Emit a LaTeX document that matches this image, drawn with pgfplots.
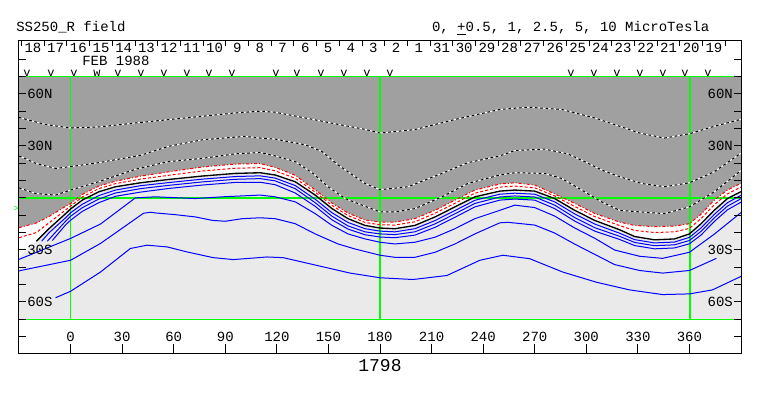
\documentclass[border=0pt]{standalone}
\usepackage{fontspec}
\setmainfont{Liberation Mono}
\usepackage{pgfplots}
\usepackage{pgfplotstable}
\pgfplotsset{compat=1.18}
\definecolor{dg}{RGB}{160,160,160}
\definecolor{lg}{RGB}{234,234,234}
\definecolor{gr}{RGB}{0,255,0}
\definecolor{bl}{RGB}{0,0,255}
\definecolor{rd}{RGB}{255,0,0}
\newcommand\fs{\fontsize{10.5}{12}\selectfont}

% neutral line (first row only used for the fill)
\pgfplotstableread{
x y
-30 -34.5
-19.9 -25.0
-12.6 -17.8
-2.9 -9.1
0 -6.4
6.8 -1.3
16.4 3.5
26.1 6.4
40.6 8.7
56.9 10.6
76.7 12.6
95.8 14.1
110.3 14.5
119 13.2
130.7 9.3
142.3 1.6
152.1 -6.2
161.4 -12.0
171.3 -15.9
180 -17.4
188.7 -17.8
200.3 -15.9
212 -11.0
223.6 -5.2
235.2 0.6
249.7 3.9
258.4 4.5
270 3.9
281.6 -0.4
293.3 -7.2
304.9 -13.0
319.4 -18.4
328.1 -22.3
339.7 -24.2
351.3 -23.7
360 -20.8
366.8 -14.9
374.4 -7.2
382.1 -0.4
390 3.6
}\Kt

\pgfplotstableread{
x y
-30 -17.3
-29 -16.9
-19.9 -14.5
-12.6 -10.8
-2.9 -4.9
0 -3.3
6.8 2.0
16.4 6.8
26.1 9.6
40.6 12.5
56.9 15.0
76.7 17.8
95.8 19.5
110.3 19.8
119 17.6
130.7 13.0
142.3 4.6
152.1 -3.0
161.4 -8.8
171.3 -12.8
180 -14.0
188.7 -14.0
200.3 -12.0
212 -7.2
223.6 -1.3
235.2 4.5
249.7 8.0
258.4 8.7
270 7.4
281.6 2.3
293.3 -3.2
304.9 -9.0
319.4 -14.0
328.1 -15.9
339.7 -16.6
351.3 -16.3
360 -14.9
366.8 -9.4
374.4 -1.3
382.1 4.5
390 8.4
}\Rone

\pgfplotstableread{
x y
-30 -23.0
-29 -22.7
-19.9 -20.0
-12.6 -14.5
-2.9 -7.0
0 -4.8
6.8 0.5
16.4 5.3
26.1 8.2
40.6 10.8
56.9 13.0
76.7 15.5
95.8 17.1
110.3 17.4
119 15.6
130.7 11.3
142.3 3.3
152.1 -4.4
161.4 -10.2
171.3 -14.2
180 -15.5
188.7 -15.7
200.3 -13.8
212 -8.9
223.6 -3.1
235.2 2.7
249.7 6.2
258.4 6.8
270 5.8
281.6 1.1
293.3 -5.0
304.9 -10.8
319.4 -16.0
328.1 -18.8
339.7 -20.0
351.3 -19.6
360 -17.6
366.8 -11.9
374.4 -4.0
382.1 2.3
390 6.2
}\Rtwo

\pgfplotstableread{
x y
-30 46.5
-29 46.1
-14.5 42.3
0 40.3
17.4 41.0
37.7 43.2
66.8 46.1
95.8 49.0
110.3 50.0
119 49.4
136.5 46.1
155.6 42.4
171.3 39.5
180 37.4
200.3 39.4
223.6 45.2
249.7 51.0
266 52.3
285.7 51.0
304.9 46.1
319.4 41.3
331 37.4
345.5 34.5
360 37.0
374.5 41.3
390 45.3
}\Done

\pgfplotstableread{
x y
-30 24.1
-29 23.8
-20.3 19.9
-8.7 17.0
0 18.0
16.3 20.3
40.6 24.5
56.9 29.7
76.7 33.5
94.1 34.9
101.6 35.5
110.3 34.5
119 33.9
136.5 30.6
146.3 26.7
155.6 19.0
165.5 12.2
171.3 8.3
180 4.7
196.3 6.4
216 14.1
231.1 20.3
249.7 24.2
258.4 27.3
275.8 28.1
289.2 25.4
299.1 20.9
308.9 16.1
319.4 12.2
332.2 8.3
345.5 6.4
360 8.7
374.5 15.1
390 25.8
}\Dtwo

\pgfplotstableread{
x y
-30 5.8
-29 5.4
-20.3 2.5
-8.7 1.6
0 4.5
16.3 9.3
37.7 16.5
56.9 20.9
76.7 22.8
95.8 25.4
110.3 26.2
119 24.2
130.7 20.9
141.1 14.1
149.8 6.4
159.7 -0.4
169.6 -4.2
180 -8.1
188.7 -8.1
200.3 -6.2
216 0.6
231.1 8.3
249.7 13.2
258.4 14.5
275.8 14.1
285.7 11.2
297.3 4.5
308.9 -2.3
319.4 -7.2
331 -8.1
345.5 -9.1
360 -5.2
374.5 3.5
390 15.8
}\Dthree

\begin{document}
\begin{tikzpicture}
\useasboundingbox (-14.25pt,-32.25pt) rectangle (558pt,264.75pt);
\begin{axis}[
  scale only axis, width=541.5pt, height=234pt,
  xmin=-30, xmax=390, ymin=-89.5, ymax=90.5,
  clip=false, axis on top,
  axis line style={line width=0.75pt, black},
  tick align=inside,
  xtick={0,30,...,360}, xtick pos=left,
  ytick={-80,-70,...,80}, ytick pos=both, yticklabel pos=left,
  yticklabels={,,60S,,,30S,,,,,,30N,,,60N,,},
  xticklabel style={anchor=center, yshift=11.8pt},
  yticklabel style={anchor=west, xshift=6pt},
  tick label style={font=\fs, inner sep=0pt},
  /pgf/number format/assume math mode=true,
  xtick style={/pgfplots/major tick length=7pt, line width=0.75pt, black},
  ytick style={/pgfplots/major tick length=5.5pt, line width=0.75pt, black},
]
% background regions
\addplot[fill=white, draw=none] table {\Rone} -- (axis cs:390,-70) -- (axis cs:-30,-70) -- cycle;
\addplot[fill=lg, draw=none] table {\Kt} -- (axis cs:390,-70) -- (axis cs:-30,-70) -- cycle;
\addplot[fill=dg, draw=none] table {\Rone} -- (axis cs:390,70) -- (axis cs:-30,70) -- cycle;

% green reference lines
\addplot[gr, line width=1pt] coordinates {(-30,0) (390,0)};
\addplot[gr, line width=1pt] coordinates {(-30,70) (390,70)};
\addplot[gr, line width=1pt] coordinates {(-30,-70) (390,-70)};
\addplot[gr, line width=1pt] coordinates {(0,-70) (0,70)};
\addplot[gr, line width=1pt] coordinates {(180,-70) (180,70)};
\addplot[gr, line width=1pt] coordinates {(360.3,-70) (360.3,70)};

% negative contours (dotted black/white)
\addplot[white, line width=0.75pt] table {\Done};
\addplot[black, line width=0.75pt, dash pattern=on 2pt off 2pt] table {\Done};
\addplot[white, line width=0.75pt] table {\Dtwo};
\addplot[black, line width=0.75pt, dash pattern=on 2pt off 2pt] table {\Dtwo};
\addplot[white, line width=0.75pt] table {\Dthree};
\addplot[black, line width=0.75pt, dash pattern=on 2pt off 2pt] table {\Dthree};

% red contours
\addplot[rd, line width=0.75pt, dash pattern=on 2.25pt off 1.5pt on 0.75pt off 1.5pt] table {\Rone};
\addplot[rd, line width=0.75pt, dash pattern=on 2.25pt off 1.5pt] table {\Rtwo};

% positive contours (blue)
\addplot[bl, line width=0.75pt] coordinates {
(-16.8,-25.0) (-12.6,-20.2) (-2.9,-11.5) (0,-8.6) (6.8,-3.7) (16.4,1.3) (26.1,4.5) (40.6,7.0) (56.9,8.8) (76.7,10.8) (95.8,12.3) (110.3,12.7) (119,11.4) (130.7,7.1) (142.3,-0.8) (152.1,-8.6) (161.4,-14.2) (171.3,-17.8) (180,-19.2) (188.7,-19.6) (200.3,-17.8) (212,-13.1) (223.6,-7.3) (235.2,-1.4) (249.7,2.1) (258.4,2.7) (270,2.1) (281.6,-2.3) (293.3,-9.3) (304.9,-15.1) (319.4,-20.4) (328.1,-24.1) (339.7,-26.0) (351.3,-25.5) (360,-22.8) (366.8,-17.3) (374.4,-9.6) (382.1,-2.8) (390,1.5)};
\addplot[bl, line width=0.75pt] coordinates {
(-13.5,-25.0) (-2.9,-13.5) (0,-10.6) (6.8,-5.7) (16.4,-0.7) (26.1,2.8) (40.6,5.3) (56.9,7.2) (76.7,9.2) (95.8,10.7) (110.3,11.1) (119,9.8) (130.7,5.3) (142.3,-2.8) (152.1,-10.6) (161.4,-16.2) (171.3,-19.6) (180,-20.8) (188.7,-21.2) (200.3,-19.6) (212,-15.0) (223.6,-9.2) (235.2,-3.2) (249.7,0.5) (258.4,1.1) (270,0.5) (281.6,-4.2) (293.3,-11.4) (304.9,-17.2) (319.4,-22.2) (328.1,-25.7) (339.7,-27.6) (351.3,-27.1) (360,-24.6) (366.8,-19.3) (374.4,-11.6) (382.1,-4.8) (390,-0.5)};
\addplot[bl, line width=0.75pt] coordinates {
(-10.6,-24.6) (-2.9,-15.6) (0,-12.9) (6.8,-7.8) (16.4,-2.8) (26.1,0.9) (40.6,3.3) (56.9,5.4) (76.7,7.4) (95.8,8.9) (110.3,9.0) (119,7.6) (130.7,2.8) (142.3,-4.9) (152.1,-12.7) (161.4,-18.0) (171.3,-21.3) (180,-22.6) (188.7,-23.0) (200.3,-21.5) (212,-17.0) (223.6,-11.2) (235.2,-5.2) (249.7,-1.3) (258.4,-0.7) (270,-1.3) (281.6,-6.2) (293.3,-13.4) (304.9,-19.2) (319.4,-24.0) (328.1,-27.5) (339.7,-29.4) (351.3,-28.9) (360,-26.5) (366.8,-21.4) (374.4,-13.7) (382.1,-6.9) (390,-2.5)};
\addplot[bl, line width=0.75pt] coordinates {
(-30,-35.5) (-29,-35.1) (0,-23.4) (17.4,-15.1) (37.7,0) (49.4,0.6) (72.6,-0.4) (88.3,0.6) (110.3,1.6) (119,0.6) (130.7,-2.3) (142.3,-9.1) (152.1,-15.9) (161.4,-20.8) (171.3,-23.7) (180,-25.6) (188.7,-26.6) (200.3,-25.6) (212,-22.7) (223.6,-17.8) (235.2,-12.0) (249.7,-7.2) (258.4,-4.2) (270,-5.6) (281.6,-10.5) (293.3,-17.4) (304.9,-23.3) (316.5,-30.1) (331,-33.7) (344.4,-34.9) (360,-31.4) (374.5,-20.9) (390,-8.5)};
\addplot[bl, line width=0.75pt] coordinates {
(-30,-42.2) (-29,-41.9) (0,-36.0) (17.4,-26.3) (42.4,-8.9) (46.5,-8.3) (49.4,-8.7) (61,-9.7) (72.6,-11.0) (82.5,-13.0) (90,-13.5) (99.9,-12.0) (110.3,-11.5) (119,-12.0) (130.7,-14.9) (142.3,-20.8) (155.6,-26.6) (165.5,-29.5) (180,-33.1) (188.7,-34.3) (200.3,-34.3) (212,-31.4) (223.6,-26.6) (235.2,-20.8) (249.7,-14.4) (254.4,-14.1) (270,-15.7) (281.6,-20.3) (293.3,-26.7) (304.9,-32.6) (316.5,-38.5) (331,-41.9) (344.4,-43.4) (360,-41.9) (375.7,-34.9)};
\addplot[bl, line width=0.75pt] coordinates {
(-8.7,-57.6) (0,-53.9) (17.4,-42.8) (34.8,-29.2) (44.5,-27.3) (56.2,-28.3) (67.8,-31.2) (83.0,-34.5) (94.7,-35.6) (114.4,-34.1) (123.7,-34.5) (143.4,-39.0) (162.6,-43.4) (180,-46.1) (199.2,-47.1) (218.9,-44.8) (238.1,-36.0) (251.5,-33.1) (267.1,-35.1) (286.3,-42.8) (306.0,-48.7) (325.2,-53.1) (344.4,-55.8) (360,-55.4) (373.4,-53.1) (390,-45.3)};

% neutral line
\addplot[black, line width=1pt, restrict x to domain=-20:400] table {\Kt};

% observation markers
\addplot[only marks, mark=text, text mark={v}, text mark as node=true, text mark style={font=\fontsize{9}{10}\selectfont, inner sep=0pt}] coordinates {
(-25.3,71.6) (-11.4,71.6) (2.0,71.6) (27.6,71.6) (41.0,71.6) (54.4,71.6) (67.7,71.6) (80.5,71.6) (93.9,71.6) (119.5,71.6) (131.7,71.6) (145.7,71.6) (159.1,71.6) (172.4,71.6) (185.8,71.6) (291.1,71.6) (304.5,71.6) (317.9,71.6) (331.3,71.6) (344.6,71.6) (357.4,71.6) (370.8,71.6)};
\addplot[only marks, mark=text, text mark={w}, text mark as node=true, text mark style={font=\fontsize{9}{10}\selectfont, inner sep=0pt}] coordinates {(15.4,71.6)};

% texts
\node[anchor=base west, inner sep=0pt, font=\fs] at (axis cs:-31.75,95.7) {SS250\_R field};
\node[anchor=base west, inner sep=0pt, font=\fs] at (axis cs:210.1,95.7) {0, \underline{+}0.5, 1, 2.5, 5, 10 MicroTesla};
\node[anchor=base west, inner sep=0pt, font=\fs] at (axis cs:6.65,76.4) {FEB 1988};
\node[anchor=east, inner sep=0pt, font=\fs] at (axis cs:385.4,60) {60N};
\node[anchor=east, inner sep=0pt, font=\fs] at (axis cs:385.4,30) {30N};
\node[anchor=east, inner sep=0pt, font=\fs] at (axis cs:385.4,-30) {30S};
\node[anchor=east, inner sep=0pt, font=\fs] at (axis cs:385.4,-60) {60S};
\node[inner sep=0pt, font=\fontsize{13.5}{15}\selectfont] at (axis cs:180,-97) {1798};
\node[inner sep=0pt, text=gr, font=\fontsize{7}{8}\selectfont] at (axis cs:-31.6,-6.4) {>};
\end{axis}

% date row along the top of the frame
\begin{axis}[
  scale only axis, width=541.5pt, height=234pt,
  xmin=-30, xmax=390, ymin=-89.5, ymax=90.5,
  axis x line*=top, axis y line=none,
  x axis line style={draw=none},
  tick align=inside,
  xtick={-21.9,-8.695,...,375},
  xticklabels={18,17,16,15,14,13,12,11,10,9,8,7,6,5,4,3,2,1,31,30,29,28,27,26,25,24,23,22,21,20,19},
  minor xtick={-28.5,-15.295,...,382},
  major tick length=0pt, minor tick length=4pt,
  xtick style={line width=0.75pt, black},
  xticklabel style={anchor=center, yshift=-5.5pt, font=\fs, inner sep=0pt},
]
\end{axis}
\end{tikzpicture}
\end{document}
